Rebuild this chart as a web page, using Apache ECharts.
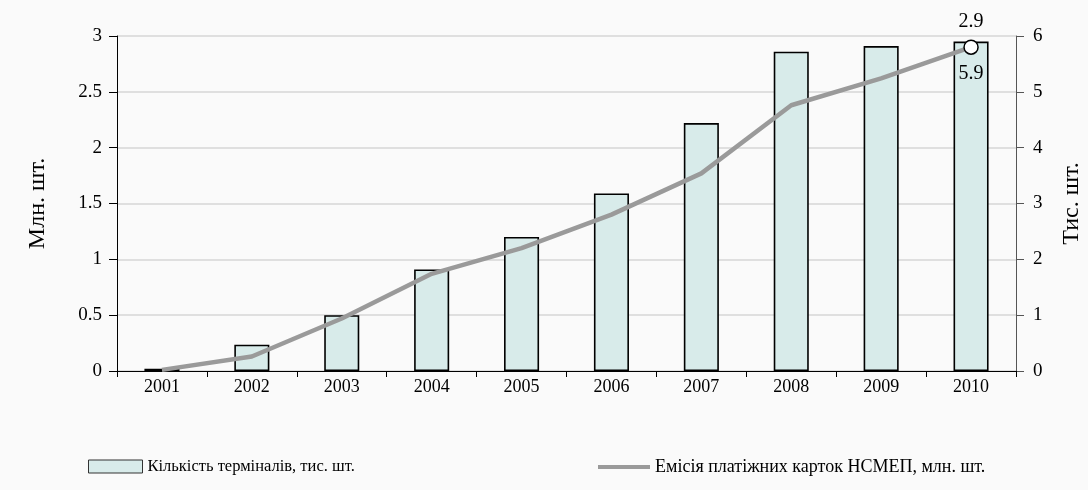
<!DOCTYPE html>
<html>
<head>
<meta charset="utf-8">
<script src="https://cdn.jsdelivr.net/npm/echarts@6/dist/echarts.min.js"></script>
<style>
    html, body { margin: 0; padding: 0; background: #fafafa; }
    #chart { width: 1088px; height: 490px; }
</style>
</head>
<body>
<div id="chart"></div>
<script>
// дані
const years = [ '2001', '2002', '2003', '2004', '2005', '2006', '2007', '2008', '2009', '2010' ]
// Кількість терміналів, тис. шт. (права вісь)
const terminals = [ 0.04, 0.47, 1.0, 1.82, 2.4, 3.18, 4.44, 5.72, 5.82, 5.9 ]
// Емісія платіжних карток НСМЕП, млн. шт. (ліва вісь)
const cards = [ 0.01, 0.13, 0.47, 0.87, 1.1, 1.4, 1.77, 2.38, 2.62, 2.9 ]
const leftTicks = [ 0, 0.5, 1, 1.5, 2, 2.5, 3 ]
const rightTicks = [ 0, 1, 2, 3, 4, 5, 6 ]

const barName = 'Кількість терміналів, тис. шт.'
const lineName = 'Емісія платіжних карток НСМЕП, млн. шт.'
const font = '"Liberation Serif", "Times New Roman", serif'
const last = years.length - 1

const chart = echarts.init( document.getElementById( 'chart' ) )

const option = {
    backgroundColor: '#fafafa',
    animation: false,
    textStyle: { fontFamily: font, color: '#000' },
    grid: {
        left: 117,
        right: 72,
        top: 36,
        bottom: 119,
        containLabel: false,
        outerBoundsMode: 'none'
    },
    legend: [
        {
            data: [ barName ],
            left: 83,
            top: 453,
            itemWidth: 54,
            itemHeight: 13,
            icon: 'rect',
            itemStyle: { borderColor: '#333', borderWidth: 1 },
            textStyle: { fontFamily: font, fontSize: 16.5, color: '#000' }
        }, {
            data: [ lineName ],
            left: 593,
            top: 453,
            itemWidth: 52,
            itemHeight: 4,
            icon: 'rect',
            textStyle: { fontFamily: font, fontSize: 18, color: '#000' }
        }
    ],
    xAxis: {
        type: 'category',
        data: years,
        boundaryGap: true,
        axisLine: { lineStyle: { color: '#000', width: 1 } },
        axisTick: { show: true, length: 6, lineStyle: { color: '#000' } },
        axisLabel: { fontFamily: font, fontSize: 18, color: '#000', margin: 7 },
        splitLine: { show: false }
    },
    yAxis: [
        {
            type: 'value',
            min: leftTicks[0],
            max: leftTicks[leftTicks.length - 1],
            interval: 0.5,
            name: 'Млн. шт.',
            nameLocation: 'middle',
            nameGap: 67,
            nameTextStyle: { fontFamily: font, fontSize: 24, color: '#000' },
            axisLine: { show: true, lineStyle: { color: '#000', width: 1 } },
            axisTick: { show: true, length: 8, lineStyle: { color: '#000' } },
            axisLabel: { fontFamily: font, fontSize: 19, color: '#000', margin: 15 },
            splitLine: { show: true, lineStyle: { color: '#d6d6d6', width: 1.5 } }
        }, {
            type: 'value',
            min: rightTicks[0],
            max: rightTicks[rightTicks.length - 1],
            interval: 1,
            position: 'right',
            name: 'Тис. шт.',
            nameLocation: 'middle',
            nameGap: 44,
            nameTextStyle: { fontFamily: font, fontSize: 24, color: '#000' },
            axisLine: { show: true, lineStyle: { color: '#555', width: 1 } },
            axisTick: { show: true, length: 8, lineStyle: { color: '#555' } },
            axisLabel: { fontFamily: font, fontSize: 19, color: '#000', margin: 17 },
            splitLine: { show: false }
        }
    ],
    series: [
        {
            name: barName,
            type: 'bar',
            yAxisIndex: 1,
            barWidth: '39%',
            itemStyle: {
                color: '#d8ebea',
                borderColor: '#000',
                borderWidth: 1.6
            },
            data: terminals.map(( v, i ) => i === last ? {
                value: v,
                label: {
                    show: true,
                    position: 'insideTop',
                    distance: 22,
                    fontFamily: font,
                    fontSize: 20,
                    color: '#000',
                    formatter: p => p.value.toFixed( 1 )
                }
            } : v )
        }, {
            name: lineName,
            type: 'line',
            yAxisIndex: 0,
            z: 5,
            color: '#9a9a9a',
            symbol: 'circle',
            symbolSize: ( v, p ) => p.dataIndex === last ? 14 : 0,
            lineStyle: { color: '#9a9a9a', width: 4.5 },
            itemStyle: { color: '#9a9a9a' },
            data: cards.map(( v, i ) => i === last ? {
                value: v,
                itemStyle: { color: '#fff', borderColor: '#000', borderWidth: 1.5 },
                label: {
                    show: true,
                    position: 'top',
                    distance: 8,
                    fontFamily: font,
                    fontSize: 20,
                    color: '#000',
                    formatter: p => p.value.toFixed( 1 )
                }
            } : v )
        }
    ]
}

chart.setOption( option )
</script>
</body>
</html>
